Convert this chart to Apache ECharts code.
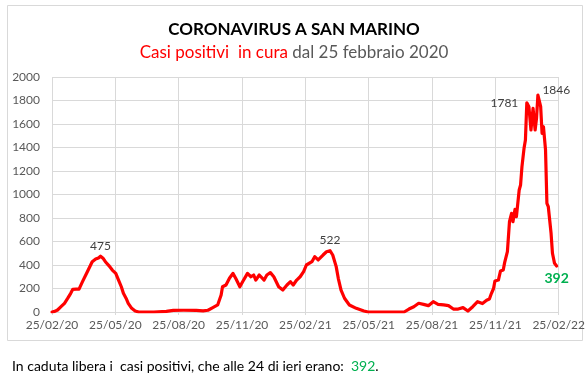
<!DOCTYPE html>
<html>
<head>
<meta charset="utf-8">
<script src="https://cdn.jsdelivr.net/npm/echarts@6/dist/echarts.min.js"></script>
<style>
html,body{margin:0;padding:0;background:#fff;}
#chart{width:588px;height:373px;}
</style>
</head>
<body>
<div id="chart"></div>
<script>
// Days elapsed since 25/02/2020 and positive cases under care
const dayOffsets = [0,4,8,13,18,23,27,30,35,39,44,51,58,63,67,70,74,77,82,87,92,96,100,103,107,110,115,120,125,
  147,165,175,190,208,218,225,232,239,244,246,251,256,261,265,271,275,282,287,291,294,299,306,310,315,320,327,333,339,344,348,353,358,363,367,375,379,384,391,396,401,405,410,413,417,422,429,439,450,456,
  508,515,522,529,536,543,550,557,565,572,579,586,593,600,607,614,621,627,631,634,637,639,644,647,651,653,657,660,663,665,668,670,674,676,678,681,683,685,688,691,694,697,699,701,705,707,709,712,714,716,720,722,725,728];
const casesInCare = [0,5,17,45,74,120,159,193,195,195,258,343,428,451,460,475,455,428,395,357,329,272,215,159,115,74,31,8,0,
  0,5,14,15,14,10,15,37,60,145,215,230,287,329,287,215,258,329,300,315,272,315,272,315,335,300,215,187,230,258,230,272,300,343,400,428,471,443,485,513,522,485,386,287,187,117,60,31,8,0,
  0,25,45,74,65,54,88,65,60,54,25,25,37,8,45,88,72,100,110,159,200,264,272,349,357,420,513,769,840,769,874,811,1038,1081,1237,1393,1464,1781,1747,1549,1733,1549,1648,1846,1747,1521,1577,1379,925,896,670,500,414,392];
const tickLabels = ['25/02/20','25/05/20','25/08/20','25/11/20','25/02/21','25/05/21','25/08/21','25/11/21','25/02/22'];
const totalDays = 731;
// annotated points: [day, value, position]
const annotations = [[70,475,'top'],[401,522,'top'],[685,1781,'left'],[701,1846,'right']];
const lastValue = 392;
const lastDay = 728;

const seriesData = dayOffsets.map((d, i) => [d, casesInCare[i]]);
const step = totalDays / 8;
const FONT = 'Lato';

const chart = echarts.init(document.getElementById('chart'), null, {renderer: 'canvas'});
chart.setOption({
  backgroundColor: '#ffffff',
  animation: false,
  textStyle: {fontFamily: FONT},
  title: [
    {text: 'CORONAVIRUS A SAN MARINO', left: 'center', top: 16,
     textStyle: {fontFamily: FONT, fontWeight: 'bold', fontSize: 17, color: '#000000'}},
    {text: '{r|Casi positivi  in cura}{g| dal 25 febbraio 2020}', left: 'center', top: 39,
     textStyle: {fontWeight: 'normal', rich: {
       r: {fontFamily: FONT, fontSize: 17, fontWeight: 'normal', color: '#FF0000'},
       g: {fontFamily: FONT, fontSize: 17, fontWeight: 'normal', color: '#595959'}
     }}},
    {text: '{t|In caduta libera i  casi positivi, che alle 24 di ieri erano:  }{v|392}{t|.}', left: 7, top: 354,
     textStyle: {fontWeight: 'normal', rich: {
       t: {fontFamily: FONT, fontSize: 14, fontWeight: 'normal', color: '#000000'},
       v: {fontFamily: FONT, fontSize: 14, fontWeight: 'normal', color: '#00B050'}
     }}}
  ],
  graphic: [
    {type: 'rect', shape: {x: 7.5, y: 5.5, width: 575, height: 335},
     style: {fill: 'none', stroke: '#d9d9d9', lineWidth: 1}, silent: true, z: -1}
  ],
  grid: {left: 52, right: 23, top: 77, bottom: 61},
  xAxis: {
    type: 'value', min: 0, max: totalDays, interval: step,
    axisLine: {show: true, lineStyle: {color: '#d9d9d9'}},
    axisTick: {show: true, length: 3, lineStyle: {color: '#d9d9d9'}},
    splitLine: {show: true, lineStyle: {color: '#d9d9d9', width: 1}},
    axisLabel: {margin: 7, color: '#595959', fontSize: 12, fontFamily: FONT,
      showMaxLabel: true, showMinLabel: true,
      formatter: v => tickLabels[Math.round(v / step)] || ''}
  },
  yAxis: {
    type: 'value', min: 0, max: 2000, interval: 200,
    axisLine: {show: false}, axisTick: {show: false},
    splitLine: {lineStyle: {color: '#d9d9d9', width: 1}},
    axisLabel: {margin: 12, color: '#595959', fontSize: 12, fontFamily: FONT,
      formatter: v => String(v)}
  },
  series: [{
    type: 'line', data: seriesData, showSymbol: false, symbol: 'none',
    lineStyle: {color: '#FF0000', width: 3.2, cap: 'round', join: 'round'},
    itemStyle: {color: '#FF0000'},
    markPoint: {
      symbol: 'circle', symbolSize: 1, itemStyle: {color: 'rgba(0,0,0,0)'},
      data: annotations.map(a => ({
        coord: [a[0], a[1]], value: a[1],
        label: {show: true, position: a[2], distance: a[2] === 'left' ? 8 : 4,
          offset: a[2] === 'right' ? [0, -5] : [0, 0],
          color: '#404040', fontSize: 12, fontFamily: FONT, formatter: String(a[1])}
      })).concat([{
        coord: [lastDay, lastValue], value: lastValue,
        label: {show: true, position: 'bottom', distance: 5, color: '#00B050',
          fontWeight: 'bold', fontSize: 14, fontFamily: FONT, formatter: String(lastValue)}
      }])
    }
  }]
});
</script>
</body>
</html>
